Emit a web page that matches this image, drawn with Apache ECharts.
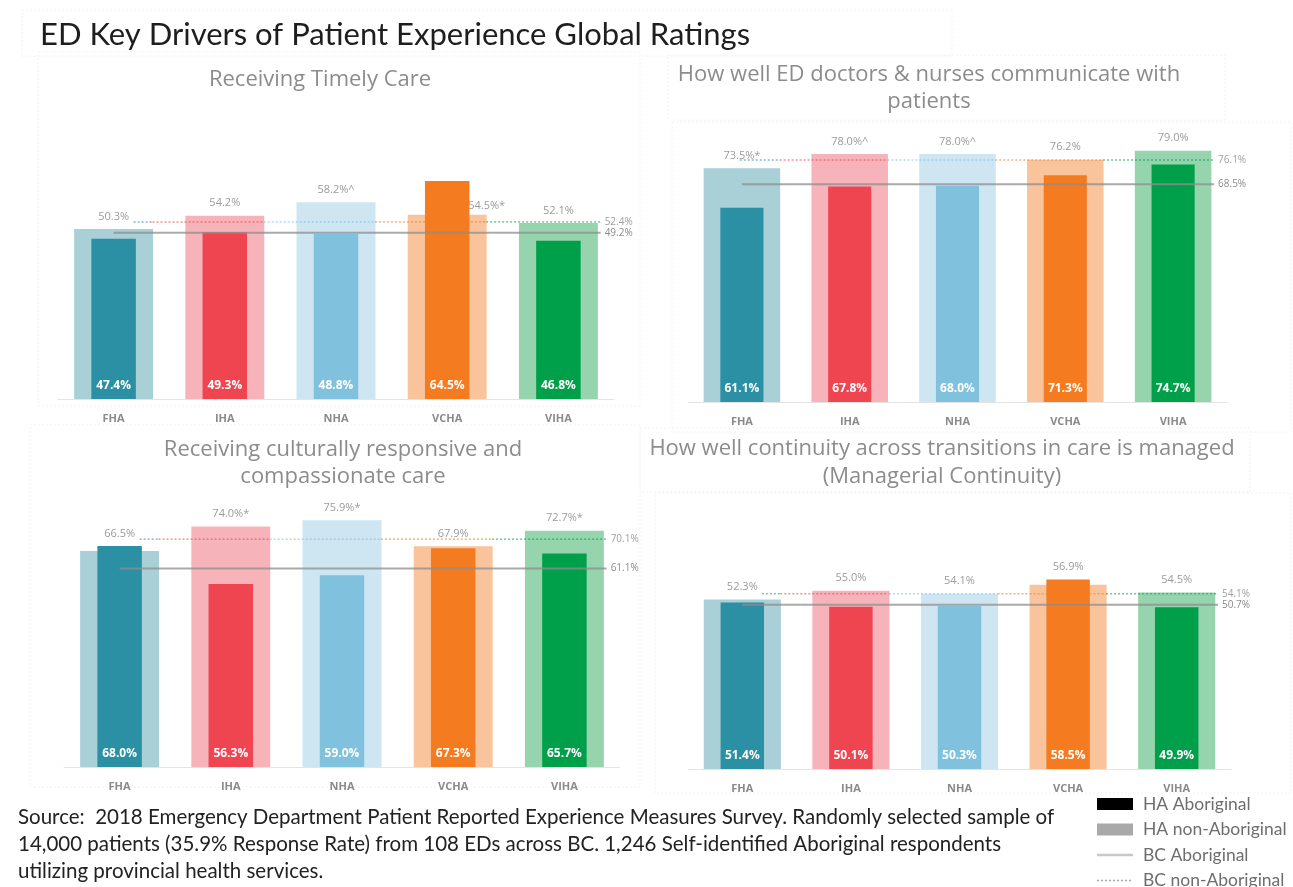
<!DOCTYPE html>
<html>
<head>
<meta charset="utf-8">
<script src="https://cdn.jsdelivr.net/npm/echarts@6/dist/echarts.min.js"></script>
<style>
  html, body { margin: 0; padding: 0; background: #ffffff; }
  #chart { width: 1293px; height: 887px; }
</style>
</head>
<body>
<div id="chart"></div>
<script>
// Health authorities shown in every panel
const regions = ['FHA', 'IHA', 'NHA', 'VCHA', 'VIHA'];

// Receiving Timely Care
const timelyAboriginal = [47.4, 49.3, 48.8, 64.5, 46.8];
const timelyNonAboriginal = [50.3, 54.2, 58.2, 54.5, 52.1];
const timelyNotes = ['', '', '^', '*', ''];
const timelyBCAboriginal = 49.2;
const timelyBCNonAboriginal = 52.4;

// How well ED doctors & nurses communicate with patients
const commAboriginal = [61.1, 67.8, 68.0, 71.3, 74.7];
const commNonAboriginal = [73.5, 78.0, 78.0, 76.2, 79.0];
const commNotes = ['*', '^', '^', '', ''];
const commBCAboriginal = 68.5;
const commBCNonAboriginal = 76.1;

// Receiving culturally responsive and compassionate care
const cultureAboriginal = [68.0, 56.3, 59.0, 67.3, 65.7];
const cultureNonAboriginal = [66.5, 74.0, 75.9, 67.9, 72.7];
const cultureNotes = ['', '*', '*', '', '*'];
const cultureBCAboriginal = 61.1;
const cultureBCNonAboriginal = 70.1;

// Managerial continuity
const contAboriginal = [51.4, 50.1, 50.3, 58.5, 49.9];
const contNonAboriginal = [52.3, 55.0, 54.1, 56.9, 54.5];
const contNotes = ['', '', '', '', ''];
const contBCAboriginal = 50.7;
const contBCNonAboriginal = 54.1;

// Colours per health authority
const darkColors  = ['#2b90a4', '#ee4551', '#80c1de', '#f47b20', '#00a04b'];
const lightColors = ['#a9cfd7', '#f6b3ba', '#cee6f2', '#f9c49b', '#95d4ac'];

const panels = [
  { title: ['Receiving Timely Care'], tx: 320, ty: [80],
    ab: timelyAboriginal, non: timelyNonAboriginal, notes: timelyNotes,
    bcAb: timelyBCAboriginal, bcNon: timelyBCNonAboriginal,
    grid: { left: 58, top: 61, width: 556, height: 338 }, dotStart: 0.68 },
  { title: ['How well ED doctors & nurses communicate with', 'patients'], tx: 929, ty: [75, 102],
    ab: commAboriginal, non: commNonAboriginal, notes: commNotes,
    bcAb: commBCAboriginal, bcNon: commBCNonAboriginal,
    grid: { left: 688, top: 84, width: 539, height: 318 }, dotStart: 0.48 },
  { title: ['Receiving culturally responsive and', 'compassionate care'], tx: 343, ty: [450, 477],
    ab: cultureAboriginal, non: cultureNonAboriginal, notes: cultureNotes,
    bcAb: cultureBCAboriginal, bcNon: cultureBCNonAboriginal,
    grid: { left: 64, top: 442, width: 556, height: 325 }, dotStart: 0.68 },
  { title: ['How well continuity across transitions in care is managed', '(Managerial Continuity)'], tx: 942, ty: [449, 477],
    ab: contAboriginal, non: contNonAboriginal, notes: contNotes,
    bcAb: contBCAboriginal, bcNon: contBCNonAboriginal,
    grid: { left: 688, top: 445, width: 543, height: 324 }, dotStart: 0.68 }
];

const FONT = '"Open Sans", "Noto Sans", sans-serif';
const grids = [], xAxes = [], yAxes = [], series = [], graphics = [];

panels.forEach((p, i) => {
  grids.push(Object.assign({ containLabel: false }, p.grid));
  const pxPerUnit = p.grid.height / 100;
  const band = p.grid.width / regions.length;

  // visible category axis (wide bars), hidden category axis (narrow bars), hidden value axis (BC lines)
  xAxes.push({
    type: 'category', gridIndex: i, data: regions,
    axisLine: { lineStyle: { color: '#e4e4e4', width: 1 } },
    axisTick: { show: false },
    axisLabel: { color: '#8a8a8a', fontSize: 11, fontWeight: 'bold', fontFamily: FONT, margin: 14 }
  });
  xAxes.push({ type: 'category', gridIndex: i, data: regions, show: false });
  xAxes.push({ type: 'value', gridIndex: i, min: 0, max: regions.length, show: false });
  yAxes.push({ type: 'value', gridIndex: i, min: 0, max: 100, show: false, splitLine: { show: false } });

  // HA non-Aboriginal (wide, light bars)
  series.push({
    type: 'bar', xAxisIndex: 3 * i, yAxisIndex: i, barWidth: '71%', z: 2,
    data: p.non.map((v, k) => {
      const diff = p.ab[k] - v;
      const label = {
        show: true, position: 'top', color: '#9b9b9b', fontSize: 11, fontFamily: FONT,
        formatter: v.toFixed(1) + '%' + p.notes[k]
      };
      if (diff > 5) {
        label.offset = [band * 0.355, 0];
        label.distance = 3;
      } else {
        label.distance = 7 + Math.max(0, diff) * pxPerUnit;
      }
      return { value: v, itemStyle: { color: lightColors[k] }, label };
    })
  });

  // HA Aboriginal (narrow, dark bars)
  series.push({
    type: 'bar', xAxisIndex: 3 * i + 1, yAxisIndex: i, barWidth: '40%', z: 2,
    data: p.ab.map((v, k) => ({ value: v, itemStyle: { color: darkColors[k] } })),
    label: {
      show: true, position: 'insideBottom', distance: 7, color: '#ffffff',
      fontSize: 12, fontWeight: 'bold', fontFamily: FONT,
      formatter: (d) => d.value.toFixed(1) + '%'
    }
  });

  // BC Aboriginal (solid reference line)
  const lineEnd = regions.length - 0.12;
  series.push({
    type: 'line', xAxisIndex: 3 * i + 2, yAxisIndex: i, z: 4, silent: true,
    symbol: 'none',
    lineStyle: { color: '#8d8d8d', width: 2, opacity: 0.75 },
    data: [[0.5, p.bcAb], [lineEnd, p.bcAb]],
    endLabel: { show: true, distance: 4, color: '#8a8a8a', fontSize: 10, fontFamily: FONT,
                formatter: (d) => d.value[1].toFixed(1) + '%' }
  });

  // BC non-Aboriginal (dotted reference line, tinted per health authority)
  regions.forEach((r, k) => {
    const from = k === 0 ? p.dotStart : k - 0.15;
    const to = k === regions.length - 1 ? lineEnd : k + 0.85;
    const s = {
      type: 'line', xAxisIndex: 3 * i + 2, yAxisIndex: i, z: 4, silent: true,
      symbol: 'none',
      lineStyle: { color: darkColors[k], width: 1.5, type: [2, 2], opacity: 0.6 },
      data: [[from, p.bcNon], [to, p.bcNon]]
    };
    if (k === regions.length - 1) {
      s.endLabel = { show: true, distance: 4, color: '#a0a0a0', fontSize: 10, fontFamily: FONT,
                     formatter: (d) => d.value[1].toFixed(1) + '%' };
    }
    series.push(s);
  });

  // panel title
  p.title.forEach((t, j) => {
    graphics.push({
      type: 'text', x: p.tx, y: p.ty[j], z: 10,
      style: { text: t, fill: '#8c8c8c', font: '22px ' + FONT, textAlign: 'center', textVerticalAlign: 'middle' }
    });
  });
});

// faint visual frames around title and panels
const frames = [
  [22, 10, 930, 46], [38, 52, 602, 354], [668, 55, 557, 65], [672, 122, 619, 310],
  [30, 425, 610, 362], [640, 428, 610, 64], [655, 493, 636, 300]
];
frames.forEach(f => {
  graphics.push({
    type: 'rect', z: 0, silent: true,
    shape: { x: f[0], y: f[1], width: f[2], height: f[3] },
    style: { fill: 'none', stroke: '#f2f2f2', lineWidth: 1, lineDash: [2, 2] }
  });
});

// main heading
graphics.push({
  type: 'text', x: 40, y: 35, z: 10,
  style: { text: 'ED Key Drivers of Patient Experience Global Ratings', fill: '#1e1e1e',
           font: '31px Lato, "Open Sans", sans-serif', textVerticalAlign: 'middle' }
});

// source note
const sourceLines = [
  'Source:  2018 Emergency Department Patient Reported Experience Measures Survey. Randomly selected sample of',
  '14,000 patients (35.9% Response Rate) from 108 EDs across BC. 1,246 Self-identified Aboriginal respondents',
  'utilizing provincial health services.'
];
sourceLines.forEach((t, j) => {
  graphics.push({
    type: 'text', x: 18, y: 817 + j * 27, z: 10,
    style: { text: t, fill: '#222222', font: '20.5px Lato, "Open Sans", sans-serif', textVerticalAlign: 'middle' }
  });
});

// legend
const legendItems = [
  { name: 'HA Aboriginal', kind: 'box', color: '#000000' },
  { name: 'HA non-Aboriginal', kind: 'box', color: '#a9a9a9' },
  { name: 'BC Aboriginal', kind: 'line', color: '#c8c8c8' },
  { name: 'BC non-Aboriginal', kind: 'dots', color: '#a8a8a8' }
];
legendItems.forEach((it, j) => {
  const cy = 804 + j * 25.5;
  if (it.kind === 'box') {
    graphics.push({ type: 'rect', shape: { x: 1097, y: cy - 6, width: 36, height: 12 },
                    style: { fill: it.color } });
  } else {
    graphics.push({ type: 'line', shape: { x1: 1097, y1: cy, x2: 1133, y2: cy },
                    style: { stroke: it.color, lineWidth: it.kind === 'line' ? 2.5 : 1.5,
                             lineDash: it.kind === 'dots' ? [2, 2] : null } });
  }
  graphics.push({
    type: 'text', x: 1143, y: cy, z: 10,
    style: { text: it.name, fill: '#6e6e6e', font: '17.5px Lato, "Open Sans", sans-serif', textVerticalAlign: 'middle' }
  });
});

const chart = echarts.init(document.getElementById('chart'), null, { renderer: 'canvas' });
chart.setOption({
  animation: false,
  backgroundColor: '#ffffff',
  grid: grids,
  xAxis: xAxes,
  yAxis: yAxes,
  series: series,
  graphic: graphics
});
</script>
</body>
</html>
